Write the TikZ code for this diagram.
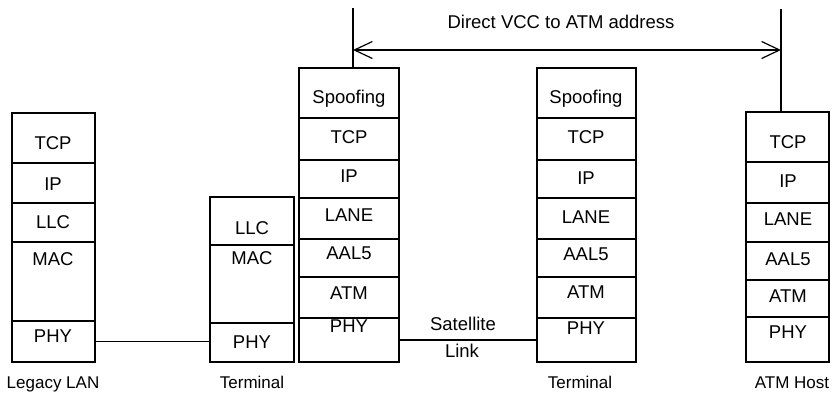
\documentclass[tikz,border=0pt]{standalone}
\usepackage{fontspec}
\setmainfont{Liberation Sans}
\usetikzlibrary{arrows.meta}
\tikzset{
  lay/.style={draw=black, line width=1.1pt, inner sep=0pt, outer sep=0pt, anchor=north west},
  lbl/.style={inner sep=0pt, font=\fontsize{18.5}{21}\selectfont},
  stackname/.style={inner sep=0pt, font=\fontsize{17}{20}\selectfont, anchor=base},
  wire/.style={line width=1.1pt},
  vcc/.style={line width=1.2pt, {Straight Barb[length=18pt,width=17pt,line width=1.2pt]}-{Straight Barb[length=18pt,width=17pt,line width=1.2pt]}}
}
\newcommand{\lay}[5]{\node[lay, minimum width={(#4-#2)*1pt}, minimum height={(#5-#3)*1pt}] (#1) at (#2,#3) {};}
\begin{document}
\begin{tikzpicture}[x=1pt,y=-1pt]
\useasboundingbox (0,0) rectangle (832,400);
% Legacy LAN
\lay{la1}{12}{113}{95}{163}
\lay{la2}{12}{163}{95}{203}
\lay{la3}{12}{203}{95}{242}
\lay{la4}{12}{242}{95}{321}
\lay{la5}{12}{321}{95}{362}
\node[lbl] (la1t) at (53,143) {TCP};
\node[lbl] (la2t) at (53,184) {IP};
\node[lbl] (la3t) at (53,222) {LLC};
\node[lbl] (la4t) at (53,259) {MAC};
\node[lbl] (la5t) at (53,336) {PHY};
\node[stackname] (lacap) at (53,388) {Legacy LAN};
% Terminal 1
\lay{tb1}{210}{197}{294}{245}
\lay{tb2}{210}{245}{294}{323}
\lay{tb3}{210}{323}{294}{362}
\node[lbl] (tb1t) at (252,228) {LLC};
\node[lbl] (tb2t) at (252,258) {MAC};
\node[lbl] (tb3t) at (252,342) {PHY};
\node[stackname] (tbcap) at (252,388) {Terminal};
% Terminal 2 (stack 3)
\lay{sa1}{299}{68}{399}{118}
\lay{sa2}{299}{118}{399}{160}
\lay{sa3}{299}{160}{399}{198}
\lay{sa4}{299}{198}{399}{239}
\lay{sa5}{299}{239}{399}{277}
\lay{sa6}{299}{277}{399}{318}
\lay{sa7}{299}{318}{399}{362}
\node[lbl] (sa1t) at (349,99) {Spoofing};
\node[lbl] (sa2t) at (349,137) {TCP};
\node[lbl] (sa3t) at (349,176) {IP};
\node[lbl] (sa4t) at (349,215) {LANE};
\node[lbl] (sa5t) at (349,253) {AAL5};
\node[lbl] (sa6t) at (349,293) {ATM};
\node[lbl] (sa7t) at (349,326) {PHY};
% Terminal 3 (stack 4)
\lay{sb1}{537}{68}{636}{118}
\lay{sb2}{537}{118}{636}{160}
\lay{sb3}{537}{160}{636}{198}
\lay{sb4}{537}{198}{636}{239}
\lay{sb5}{537}{239}{636}{277}
\lay{sb6}{537}{277}{636}{318}
\lay{sb7}{537}{318}{636}{362}
\node[lbl] (sb1t) at (586,99) {Spoofing};
\node[lbl] (sb2t) at (586,137) {TCP};
\node[lbl] (sb3t) at (586,178) {IP};
\node[lbl] (sb4t) at (586,217) {LANE};
\node[lbl] (sb5t) at (586,254) {AAL5};
\node[lbl] (sb6t) at (586,292) {ATM};
\node[lbl] (sb7t) at (586,328) {PHY};
\node[stackname] (sbcap) at (580,388) {Terminal};
% ATM host
\lay{ah1}{746}{112}{829}{162}
\lay{ah2}{746}{162}{829}{203}
\lay{ah3}{746}{203}{829}{242}
\lay{ah4}{746}{242}{829}{280}
\lay{ah5}{746}{280}{829}{317}
\lay{ah6}{746}{317}{829}{362}
\node[lbl] (ah1t) at (788,142) {TCP};
\node[lbl] (ah2t) at (788,181) {IP};
\node[lbl] (ah3t) at (788,219) {LANE};
\node[lbl] (ah4t) at (788,259) {AAL5};
\node[lbl] (ah5t) at (788,296) {ATM};
\node[lbl] (ah6t) at (788,332) {PHY};
\node[stackname] (ahcap) at (792,388) {ATM Host};
% links
\draw[wire] (la5.east) -- (la5.east -| tb3.west);
\draw[wire] (sa7.east) -- (sb7.west);
\node[lbl] (satt) at (463,324) {Satellite};
\node[lbl] (lnkt) at (462,351) {Link};
% direct VCC
\coordinate (v1) at (353,8);
\coordinate (v2) at (781,9);
\draw[wire] (v1) -- (v1 |- sa1.north);
\draw[wire] (v2) -- (v2 |- ah1.north);
\coordinate (a1) at (353,50);
\coordinate (a2) at (781,50);
\draw[vcc] (a1) -- (a2);
\node[lbl, anchor=base] (vcct) at (561,28) {Direct VCC to ATM address};
\end{tikzpicture}
\end{document}
